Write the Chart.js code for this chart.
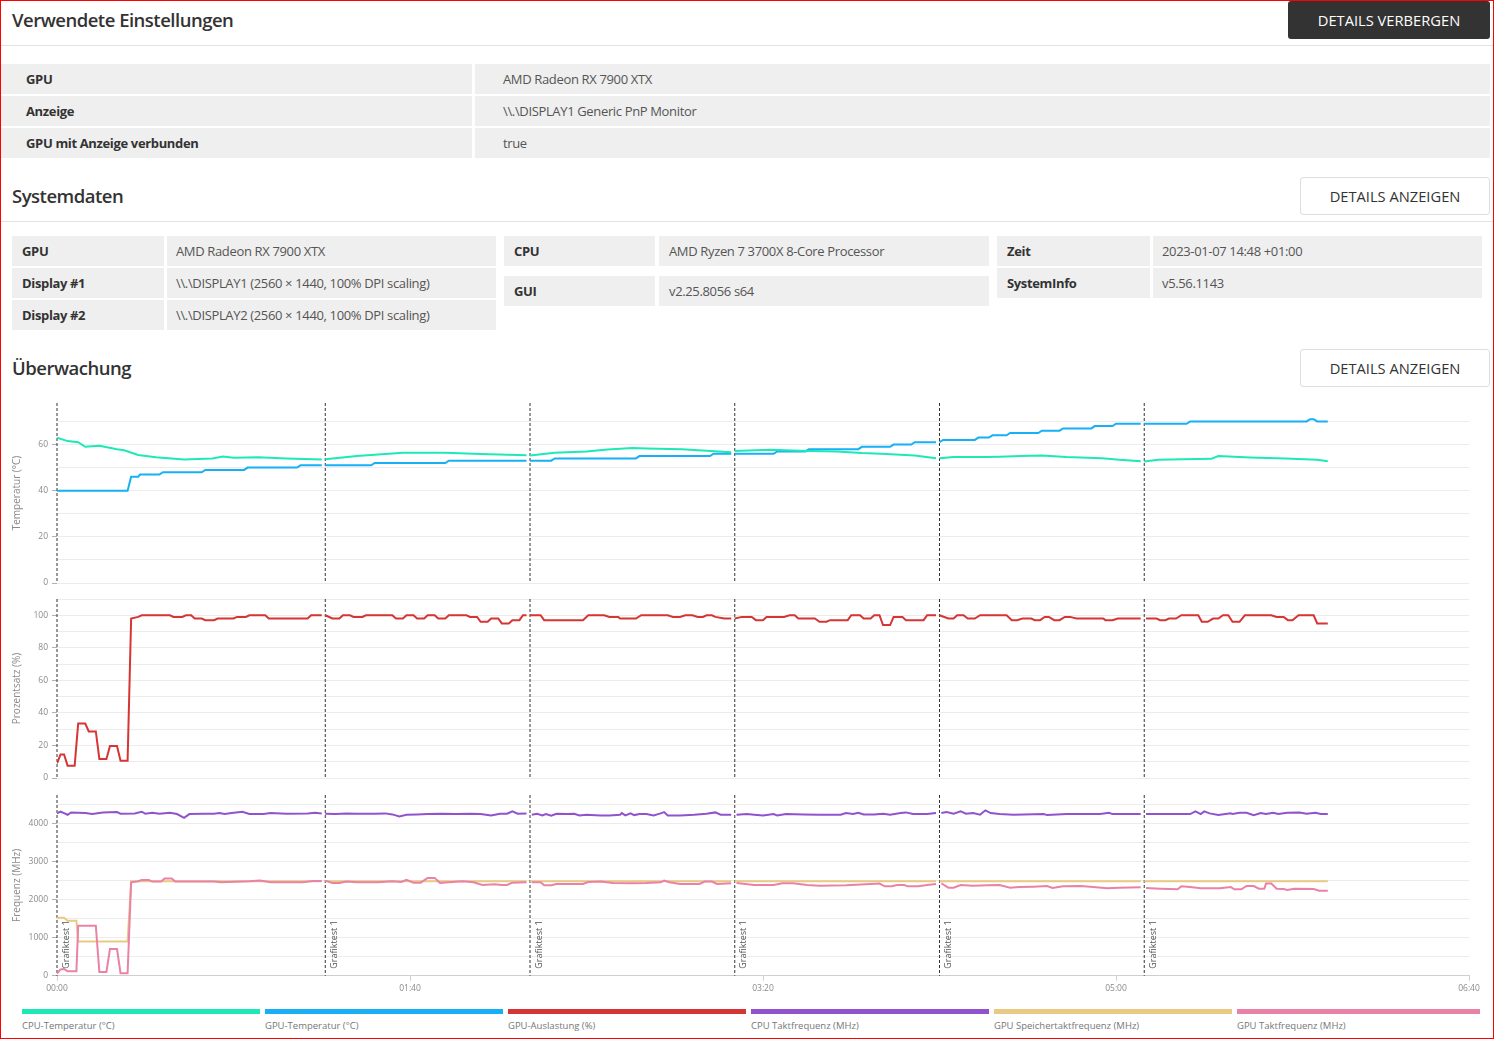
<!DOCTYPE html>
<html lang="de">
<head>
<meta charset="utf-8">
<title>Überwachung</title>
<script src="https://cdn.jsdelivr.net/npm/chart.js@4.4.0/dist/chart.umd.min.js"></script>
<style>
  html, body { margin: 0; padding: 0; background: #fff; }
  body { width: 1494px; height: 1040px; position: relative; overflow: hidden; font-family: "Open Sans", sans-serif; color: #333; }
  .frame { position: absolute; left: 0; top: 0; width: 1494px; height: 1039px; box-sizing: border-box; border: 1px solid #f00; pointer-events: none; z-index: 5; }
  h2 { position: absolute; left: 12px; margin: 0; font-size: 18.5px; font-weight: 600; letter-spacing: -0.5px; line-height: 24px; color: #333; }
  .btn { position: absolute; box-sizing: border-box; font-size: 14.7px; text-transform: uppercase; text-align: center; border-radius: 3px; }
  .btn.dark { background: #333; color: #fff; height: 38px; line-height: 38px; }
  .btn.light { background: #fff; color: #333; border: 1px solid #ddd; height: 38px; line-height: 36px; }
  .hr { position: absolute; left: 1px; width: 1492px; height: 1px; background: #e2e2e2; }
  .cell { position: absolute; height: 30px; line-height: 30px; background: #efefef; font-size: 13px; letter-spacing: -0.35px; box-sizing: border-box; white-space: nowrap; }
  .cell.k { font-weight: 700; color: #333; }
  .cell.v { color: #555; }
  .chart { position: absolute; left: 0; width: 1494px; }
  .lg { position: absolute; top: 1009px; }
  .lg .bar { height: 5px; }
  .lg .txt { margin-top: 5px; font-size: 9.5px; line-height: 14px; color: #777; white-space: nowrap; }
</style>
</head>
<body>
<div class="frame"></div>

<h2 style="top:8px">Verwendete Einstellungen</h2>
<div class="btn dark" style="left:1288px; top:1px; width:202px">Details verbergen</div>
<div class="hr" style="top:45px"></div>

<div class="cell k" style="left:1px; top:64px; width:471px; padding-left:25px">GPU</div>
<div class="cell v" style="left:475px; top:64px; width:1015px; padding-left:28px">AMD Radeon RX 7900 XTX</div>
<div class="cell k" style="left:1px; top:96px; width:471px; padding-left:25px">Anzeige</div>
<div class="cell v" style="left:475px; top:96px; width:1015px; padding-left:28px">\\.\DISPLAY1 Generic PnP Monitor</div>
<div class="cell k" style="left:1px; top:128px; width:471px; padding-left:25px">GPU mit Anzeige verbunden</div>
<div class="cell v" style="left:475px; top:128px; width:1015px; padding-left:28px">true</div>

<h2 style="top:184px">Systemdaten</h2>
<div class="btn light" style="left:1300px; top:177px; width:190px">Details anzeigen</div>
<div class="hr" style="top:221px"></div>

<div class="cell k" style="left:12px; top:236px; width:152px; padding-left:10px">GPU</div>
<div class="cell v" style="left:167px; top:236px; width:329px; padding-left:9px">AMD Radeon RX 7900 XTX</div>
<div class="cell k" style="left:12px; top:268px; width:152px; padding-left:10px">Display #1</div>
<div class="cell v" style="left:167px; top:268px; width:329px; padding-left:9px">\\.\DISPLAY1 (2560 × 1440, 100% DPI scaling)</div>
<div class="cell k" style="left:12px; top:300px; width:152px; padding-left:10px">Display #2</div>
<div class="cell v" style="left:167px; top:300px; width:329px; padding-left:9px">\\.\DISPLAY2 (2560 × 1440, 100% DPI scaling)</div>

<div class="cell k" style="left:504px; top:236px; width:151px; padding-left:10px">CPU</div>
<div class="cell v" style="left:659px; top:236px; width:330px; padding-left:10px">AMD Ryzen 7 3700X 8-Core Processor</div>
<div class="cell k" style="left:504px; top:276px; width:151px; padding-left:10px">GUI</div>
<div class="cell v" style="left:659px; top:276px; width:330px; padding-left:10px">v2.25.8056 s64</div>

<div class="cell k" style="left:997px; top:236px; width:153px; padding-left:10px">Zeit</div>
<div class="cell v" style="left:1153px; top:236px; width:329px; padding-left:9px">2023-01-07 14:48 +01:00</div>
<div class="cell k" style="left:997px; top:268px; width:153px; padding-left:10px">SystemInfo</div>
<div class="cell v" style="left:1153px; top:268px; width:329px; padding-left:9px">v5.56.1143</div>

<h2 style="top:356px">Überwachung</h2>
<div class="btn light" style="left:1300px; top:349px; width:190px">Details anzeigen</div>

<div class="chart" style="top:393px; height:200px"><canvas id="tempChart"></canvas></div>
<div class="chart" style="top:589px; height:199px"><canvas id="pctChart"></canvas></div>
<div class="chart" style="top:785px; height:212px"><canvas id="freqChart"></canvas></div>
<div id="legend"></div>

<script>
// series names + colours (legend order)
var seriesNames = ["CPU-Temperatur (°C)", "GPU-Temperatur (°C)", "GPU-Auslastung (%)",
  "CPU Taktfrequenz (MHz)", "GPU Speichertaktfrequenz (MHz)", "GPU Taktfrequenz (MHz)"];
var seriesColors = ["#1de9b6", "#18b0f5", "#d63535", "#9153cd", "#e9c983", "#ea82a8"];

// markers, time in seconds
var eventTimes = [0, 76, 134, 192, 250, 308];
var eventLabel = "Grafiktest 1";
var xTicks = [0, 100, 200, 300, 400];

// y axes: range, grid lines, labelled ticks
var tempMax = 78, pctMax = 110, freqMax = 4760;
var tempGrid = [0, 10, 20, 30, 40, 50, 60, 70];
var tempLabels = [0, 20, 40, 60];
var pctGrid = [0, 10, 20, 30, 40, 50, 60, 70, 80, 90, 100, 110];
var pctLabels = [0, 20, 40, 60, 80, 100];
var freqGrid = [0, 500, 1000, 1500, 2000, 2500, 3000, 3500, 4000, 4500];
var freqLabels = [0, 1000, 2000, 3000, 4000];

// every series is a list of runs [seconds, value], one run per test pass
var cpuTemp = [
  [[0,63],[3,61.5],[6,61],[8,59],[12,59.5],[17,58],[19,57.5],[23,55.5],[28,54.5],[36,53.5],[44,54],[47,54.8],[50,54.3],[57,54.5],[65,54],[75,53.5]],
  [[76,53.6],[85,55],[98,56.4],[110,56.4],[120,55.9],[133,55.4]],
  [[134,55.3],[141,56.4],[150,57],[156,57.9],[163,58.5],[167,58.3],[177,58],[184,57.3],[191,56.7]],
  [[192,57.2],[202,57.7],[213,57.2],[221,57],[228,56.3],[235,55.9],[243,55.2],[249,54.1]],
  [[250,54.1],[254,54.6],[263,54.6],[267,54.7],[273,55],[279,55.2],[286,54.6],[296,54.1],[301,53.4],[307,52.8]],
  [[308,52.7],[312,53.4],[319,53.6],[327,53.8],[329,55],[338,54.4],[348,54],[357,53.4],[360,52.8]]
];
var gpuTemp = [
  [[0,40],[20,40],[21,46],[23,46],[23.5,47],[29,47],[30,48],[41,48],[42,49],[53,49],[54,50],[68,50],[69,51],[75,51]],
  [[76,51],[89,51],[90,52],[110,52],[111,53],[133,53]],
  [[134,53],[140,53],[141,54],[164,54],[165,55],[185,55],[186,56],[191,56]],
  [[192,56],[203,56],[204,57],[212,57],[213,58],[227,58],[228,59],[236,59],[237,60],[242,60],[243,61],[249,61]],
  [[250,61],[251,62],[260,62],[261,63],[264,63],[265,64],[269,64],[270,65],[278,65],[279,66],[284,66],[285,67],[293,67],[294,68],[299,68],[300,69],[307,69]],
  [[308,69],[320,69],[321,70],[354,70],[355,71],[356,71],[357,70],[360,70]]
];
var gpuLoad = [
  [[0,9],[1,14.5],[2,14.5],[3,7.6],[5,7.6],[6,33.5],[8,33.5],[9,28.6],[11,28.6],[12,11.7],[14,11.7],[15,19.6],[17,19.6],[18,10.6],[20,10.6],[21,98],[23,99],[24,100],[32,100],[33,99],[35.5,99],[36.5,100],[38,100],[39,98],[41,98],[42,97],[44.5,97],[45.5,98],[50,98],[51,99],[53.5,99],[54.5,100],[59,100],[60,98],[71,98],[72,100],[75,100]],
  [[76,100],[78,98],[80,98],[81,100],[83,100],[84,99],[86.5,99],[87.5,100],[95,100],[96,98],[98,98],[99,100],[101,100],[102,98],[104,98],[105,100],[107,100],[108,98],[110,98],[111,100],[116,100],[117,99],[119,99],[120,96],[122,96],[123,98],[125,98],[126,95],[128,95],[129,97],[131,97],[132,100],[133,100]],
  [[134,100],[137,100],[138,97],[149,97],[150.5,100],[155,100],[156.5,99],[159,99],[159.5,98],[164,98],[165.5,100],[173,100],[174.5,99],[176.5,99],[178,100],[180,100],[181.5,99],[183,99],[184,100],[185.5,100],[186.5,99],[189,98],[191,98]],
  [[192,98],[194,99],[196.8,99],[198,97],[200,97],[201,99],[206,99],[207.5,100],[209,100],[210,98],[214.7,98],[216,96],[218,96],[219,97],[224,97],[225,100],[227.5,100],[228.5,98],[230.5,98],[231.5,100],[233,100],[234,94],[236,94],[237,99],[239.5,99],[240.5,97],[245.5,97],[246.5,100],[249,100]],
  [[250,100],[252.5,98],[254,98],[255,100],[256.8,100],[258,98],[260,98],[261.5,100],[269,100],[270.5,97],[272,97],[273.5,98],[276,98],[277,97],[278.5,97],[279.8,99],[281,99],[282.5,97],[284,97],[285.5,99],[287,99],[288.8,98],[296.4,98],[297,97],[299,97],[300.5,98],[307,98]],
  [[308.5,98],[311.5,98],[312.5,97],[314,97],[315,98],[317,98],[318.5,100],[323.3,100],[324.3,96],[326,96],[327.5,98],[329,98],[330.3,100],[331.8,100],[333,96],[335,96],[336.5,100],[344,100],[345.5,99],[347.5,99],[348.7,97],[350,97],[351.7,100],[356,100],[357,95],[360,95]]
];
var cpuClock = [
  [[0,4276],[1,4320],[2,4284],[3,4240],[4,4302],[8,4284],[10,4258],[13,4302],[17,4311],[18,4267],[22,4276],[24,4320],[25,4267],[27,4293],[29,4267],[32,4293],[34,4258],[36,4160],[37.5,4258],[41.5,4267],[44.5,4267],[46,4284],[47.5,4258],[49.5,4284],[52.5,4320],[54.5,4258],[58.5,4258],[60.5,4284],[65,4267],[71,4276],[73,4293],[75,4276]],
  [[76,4267],[79,4258],[82,4276],[85,4267],[90,4267],[93,4276],[95,4249],[97,4196],[99,4240],[102,4249],[105,4258],[109,4267],[113,4258],[117,4267],[120,4258],[123,4222],[125.5,4267],[127.5,4267],[129,4329],[130.5,4267],[133,4276]],
  [[134.5,4240],[136,4267],[137.5,4222],[138.5,4258],[140,4213],[141.5,4267],[144.5,4258],[146.5,4267],[148,4222],[150,4240],[154,4222],[156.5,4222],[159.5,4240],[160,4284],[161,4222],[162.5,4276],[163.5,4231],[165,4258],[167,4258],[169,4222],[171,4276],[172,4311],[173,4222],[176.5,4222],[180.5,4240],[184,4267],[186.5,4302],[188,4240],[191,4240]],
  [[192.5,4240],[195.5,4258],[197.5,4240],[200,4222],[203,4258],[204,4222],[206.5,4258],[211.5,4249],[216,4240],[222,4240],[223.5,4284],[225.5,4258],[227,4293],[228.5,4249],[231.5,4249],[234,4267],[236,4240],[239,4284],[240.5,4302],[242.5,4258],[246.5,4258],[249,4284]],
  [[250.5,4284],[252,4311],[254,4267],[256,4329],[257.5,4267],[259.5,4284],[261.5,4240],[263,4356],[264.5,4284],[267,4258],[271,4240],[279.5,4258],[280.5,4231],[286,4258],[295.5,4258],[298,4293],[299,4258],[307,4258]],
  [[308.5,4258],[321,4258],[322.5,4329],[324,4258],[325,4329],[326.5,4276],[329,4231],[332.5,4276],[333,4258],[335,4293],[337,4293],[339,4231],[341,4284],[342.5,4258],[344.5,4293],[346,4258],[348.5,4293],[352,4302],[354,4267],[356.5,4293],[358,4258],[360,4258]]
];
var gpuMemClock = [
  [[0,1530],[2,1530],[3,1450],[5.5,1450],[6,900],[20,900],[21,2487],[75,2487]],
  [[76,2487],[133,2487]],
  [[134,2487],[191,2487]],
  [[192,2487],[249,2487]],
  [[250,2487],[307,2487]],
  [[308,2487],[360,2487]]
];
var gpuClock = [
  [[0,60],[1,170],[2,180],[3,120],[5.5,120],[6,1315],[11,1315],[12,100],[14,100],[15,705],[17,705],[18,70],[20,70],[21,2462],[23,2489],[24,2524],[26,2524],[27,2480],[29.5,2480],[30.5,2560],[32.5,2560],[33.5,2480],[44.5,2480],[46.5,2462],[54.5,2489],[57.5,2507],[60.5,2462],[69.5,2462],[72.5,2498],[75,2498]],
  [[76,2507],[78,2444],[80,2444],[82,2480],[85,2462],[91,2462],[95,2489],[97.5,2471],[99,2524],[101,2453],[103,2453],[105,2578],[107,2578],[108.5,2444],[111,2462],[115,2489],[118,2462],[120.5,2391],[124,2409],[126,2391],[127.5,2391],[129,2453],[133,2462]],
  [[134.5,2462],[137,2462],[138,2382],[140,2382],[141.5,2418],[149,2418],[150.5,2471],[154,2480],[157.5,2444],[163,2436],[167,2444],[171,2462],[172,2507],[173.5,2462],[176.5,2418],[182,2418],[183.5,2480],[185.5,2480],[187,2418],[191,2436]],
  [[192.5,2444],[197.5,2391],[203,2391],[205.5,2436],[208.5,2436],[212.5,2391],[216,2373],[223.5,2382],[230.5,2418],[233,2427],[234.5,2356],[236.5,2356],[238,2391],[240,2391],[241,2356],[244,2356],[246.5,2391],[249,2418]],
  [[250.5,2436],[252.5,2320],[254,2320],[256,2391],[259.5,2373],[263.5,2382],[267,2391],[270,2320],[272.5,2338],[276.5,2347],[280.5,2364],[282,2311],[285,2356],[290,2364],[293.5,2338],[297.5,2302],[301,2320],[307,2329]],
  [[308.5,2311],[312.5,2293],[317.5,2276],[318.5,2356],[321,2338],[324,2302],[329.5,2302],[332.5,2338],[333.5,2276],[335.5,2276],[337,2364],[339,2364],[340.5,2293],[342,2293],[342.5,2427],[344,2427],[345.5,2293],[347.5,2284],[348.5,2258],[350.5,2293],[356,2284],[357.5,2240],[360,2240]]
];

Chart.defaults.font.family = '"Open Sans", sans-serif';
Chart.defaults.color = "#8a8a8a";

// runs -> points, with a null between runs so the line breaks
function toPoints(runs) {
  var pts = [];
  runs.forEach(function (run, i) {
    if (i > 0) pts.push({ x: run[0][0] - 0.5, y: null });
    run.forEach(function (p) { pts.push({ x: p[0], y: p[1] }); });
  });
  return pts;
}

function mmss(v) {
  var m = Math.floor(v / 60), s = v % 60;
  return (m < 10 ? "0" : "") + m + ":" + (s < 10 ? "0" : "") + s;
}

// dashed marker lines (+ rotated label on the bottom chart)
var eventLines = {
  id: "eventLines",
  beforeDatasetsDraw: function (chart, args, opts) {
    var ctx = chart.ctx, area = chart.chartArea, x = chart.scales.x;
    ctx.save();
    eventTimes.forEach(function (t) {
      var px = x.getPixelForValue(t);
      ctx.strokeStyle = "#333";
      ctx.lineWidth = 1;
      ctx.setLineDash([3, 2]);
      ctx.beginPath();
      ctx.moveTo(px, area.top);
      ctx.lineTo(px, area.bottom);
      ctx.stroke();
      if (opts.labels) {
        ctx.save();
        ctx.translate(px + 11.5, area.bottom - 7);
        ctx.rotate(-Math.PI / 2);
        ctx.fillStyle = "#555";
        ctx.font = '9px "Open Sans", sans-serif';
        ctx.textBaseline = "alphabetic";
        ctx.fillText(eventLabel, 0, 0);
        ctx.restore();
      }
    });
    ctx.restore();
  }
};

function lineSet(idx, runs, order) {
  return {
    label: seriesNames[idx],
    data: toPoints(runs),
    borderColor: seriesColors[idx],
    backgroundColor: seriesColors[idx],
    borderWidth: 2,
    pointRadius: 0,
    tension: 0,
    spanGaps: false,
    order: order || 0
  };
}

function makeChart(id, datasets, yMax, grid, labels, yTitle, showX) {
  return new Chart(document.getElementById(id), {
    type: "line",
    data: { datasets: datasets },
    plugins: [eventLines],
    options: {
      responsive: true,
      maintainAspectRatio: false,
      animation: false,
      layout: { padding: { top: 10, bottom: showX ? 0 : 10, left: 0, right: 25 } },
      plugins: {
        legend: { display: false },
        tooltip: { enabled: false },
        eventLines: { labels: showX }
      },
      scales: {
        x: {
          type: "linear",
          min: 0,
          max: 400,
          display: showX,
          afterBuildTicks: function (axis) { axis.ticks = xTicks.map(function (v) { return { value: v }; }); },
          ticks: { callback: function (v) { return mmss(v); }, font: { size: 8.5 }, padding: 3, maxRotation: 0, autoSkip: false },
          grid: { drawOnChartArea: false, tickLength: 5, color: "#cfcfcf" },
          border: { color: "#cfcfcf" }
        },
        y: {
          min: 0,
          max: yMax,
          afterFit: function (axis) { axis.width = 57; },
          afterBuildTicks: function (axis) { axis.ticks = grid.map(function (v) { return { value: v }; }); },
          title: { display: true, text: yTitle, font: { size: 10 }, color: "#8a8a8a", padding: { top: 11, bottom: 0 } },
          ticks: {
            autoSkip: false,
            padding: 4,
            font: { size: 8.5 },
            callback: function (v) { return labels.indexOf(v) >= 0 ? String(v) : ""; }
          },
          grid: {
            tickLength: 5,
            color: "#ececec",
            tickColor: function (c) { return c.tick && labels.indexOf(c.tick.value) >= 0 ? "#b0b0b0" : "rgba(0,0,0,0)"; }
          },
          border: { display: false }
        }
      }
    }
  });
}

makeChart("tempChart", [lineSet(0, cpuTemp), lineSet(1, gpuTemp)], tempMax, tempGrid, tempLabels, "Temperatur (°C)", false);
makeChart("pctChart", [lineSet(2, gpuLoad)], pctMax, pctGrid, pctLabels, "Prozentsatz (%)", false);
makeChart("freqChart", [lineSet(3, cpuClock, 0), lineSet(4, gpuMemClock, 2), lineSet(5, gpuClock, 1)],
  freqMax, freqGrid, freqLabels, "Frequenz (MHz)", true);

// legend: coloured bar with the name underneath
var legend = document.getElementById("legend");
seriesNames.forEach(function (name, i) {
  var left = 22 + i * 243;
  var item = document.createElement("div");
  item.className = "lg";
  item.style.left = left + "px";
  item.style.width = (i === seriesNames.length - 1 ? 1480 - left : 238) + "px";
  item.innerHTML = '<div class="bar" style="background:' + seriesColors[i] + '"></div><div class="txt"></div>';
  item.querySelector(".txt").textContent = name;
  legend.appendChild(item);
});
</script>
</body>
</html>
